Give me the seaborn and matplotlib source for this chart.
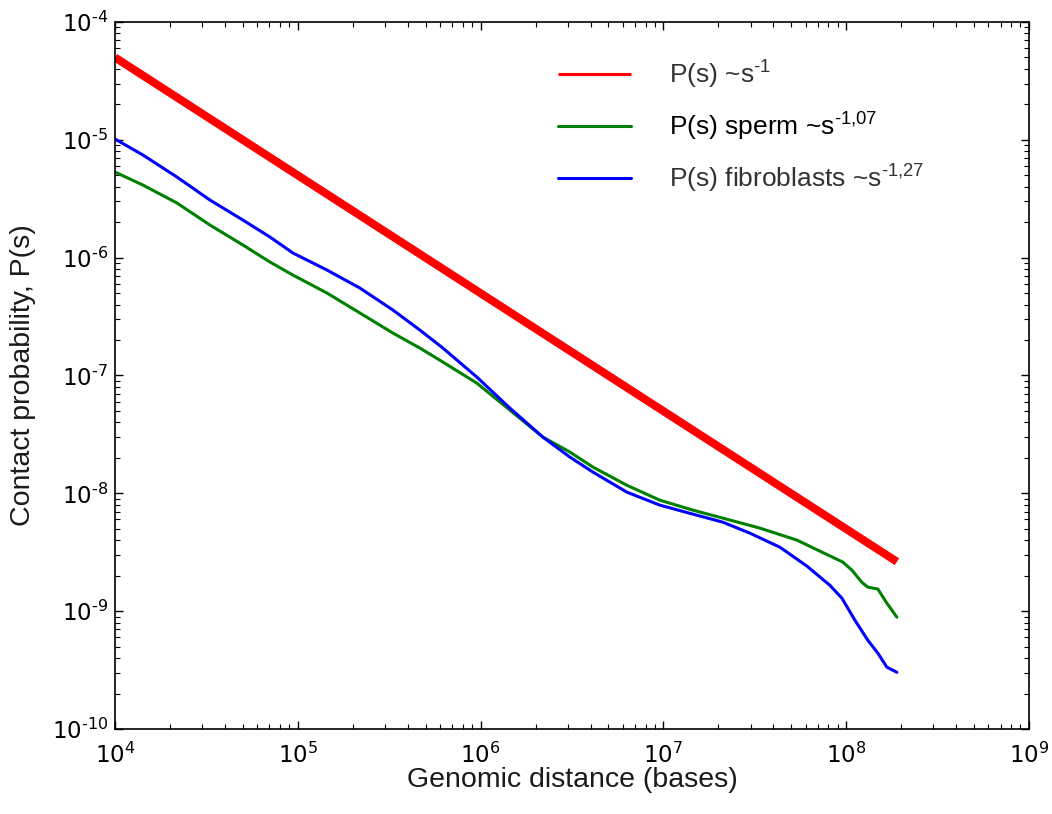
import matplotlib
matplotlib.use("Agg")
import matplotlib.pyplot as plt
import seaborn as sns
from matplotlib.ticker import LogLocator, FuncFormatter, NullFormatter
import math

# ---------------- data ----------------
red_distance = [1.0e4, 1.897e8]
red_prob = [5.0e-5, 2.63e-9]

sperm_distance = [10000, 14220, 21830, 33110, 50120, 70470, 94190, 144500, 218800,
                  331900, 465600, 622300, 955000, 1449000, 2193000, 3083000, 4121000,
                  6324000, 9572000, 14520000, 21180000, 33730000, 53830000, 71940000,
                  95940000, 107600000, 121900000, 131500000, 149300000, 167100000,
                  189700000]
sperm_prob = [5.33e-6, 4.13e-6, 2.91e-6, 1.89e-6, 1.28e-6, 9.18e-7, 7.11e-7, 5.01e-7,
              3.39e-7, 2.29e-7, 1.71e-7, 1.30e-7, 8.61e-8, 5.08e-8, 3.00e-8, 2.24e-8,
              1.67e-8, 1.17e-8, 8.75e-9, 7.20e-9, 6.16e-9, 5.07e-9, 4.01e-9, 3.23e-9,
              2.61e-9, 2.23e-9, 1.76e-9, 1.60e-9, 1.54e-9, 1.17e-9, 8.89e-10]

fibro_distance = [10000, 14220, 21830, 33110, 50120, 70470, 94190, 144500, 218800,
                  331900, 465600, 622300, 955000, 1449000, 2193000, 3083000, 4121000,
                  6324000, 9572000, 14520000, 21180000, 29790000, 43450000, 61090000,
                  81470000, 94840000, 111700000, 131500000, 149300000, 167100000,
                  189700000]
fibro_prob = [1.016e-5, 7.43e-6, 4.83e-6, 3.08e-6, 2.085e-6, 1.496e-6, 1.094e-6, 7.85e-7,
              5.52e-7, 3.59e-7, 2.43e-7, 1.71e-7, 9.69e-8, 5.28e-8, 3.00e-8, 2.03e-8,
              1.514e-8, 1.023e-8, 7.94e-9, 6.66e-9, 5.69e-9, 4.59e-9, 3.49e-9, 2.41e-9,
              1.66e-9, 1.29e-9, 8.39e-10, 5.67e-10, 4.40e-10, 3.35e-10, 3.03e-10]

labels = [r"P(s) ~s$^{\text{-1}}$",
          r"P(s) sperm ~s$^{\text{-1,07}}$",
          r"P(s) fibroblasts ~s$^{\text{-1,27}}$"]
colors = ["#ff0000", "#008000", "#0000ff"]
x_label = "Genomic distance (bases)"
y_label = "Contact probability, P(s)"

# ---------------- style ----------------
sns.set_theme(style="white")
plt.rcParams["font.family"] = ["DejaVu Sans"]
plt.rcParams["mathtext.fontset"] = "custom"
plt.rcParams["mathtext.rm"] = "Liberation Sans"
plt.rcParams["mathtext.it"] = "Liberation Sans:italic"
plt.rcParams["mathtext.bf"] = "Liberation Sans:bold"
plt.rcParams["axes.unicode_minus"] = False

fig = plt.figure(figsize=(10.52, 8.14), dpi=100)
ax = fig.add_axes([0.1093, 0.1044, 0.8687, 0.8686])

sns.lineplot(x=red_distance, y=red_prob, ax=ax, color=colors[0], linewidth=5.8,
             label=labels[0], solid_capstyle="butt")
sns.lineplot(x=sperm_distance, y=sperm_prob, ax=ax, color=colors[1], linewidth=2.2,
             label=labels[1])
sns.lineplot(x=fibro_distance, y=fibro_prob, ax=ax, color=colors[2], linewidth=2.2,
             label=labels[2])

ax.set_xscale("log")
ax.set_yscale("log")
ax.set_xlim(1e4, 1e9)
ax.set_ylim(1e-10, 1e-4)


def pow_fmt(v, pos):
    e = int(round(math.log10(v)))
    return r"10$^{\text{%d}}$" % e


for a in (ax.xaxis, ax.yaxis):
    a.set_major_locator(LogLocator(base=10, numticks=20))
    a.set_minor_locator(LogLocator(base=10, subs=range(2, 10), numticks=20))
    a.set_major_formatter(FuncFormatter(pow_fmt))
    a.set_minor_formatter(NullFormatter())

ax.tick_params(which="both", direction="in", top=True, right=True,
               bottom=True, left=True, colors="black")
ax.tick_params(which="major", length=6, width=1.0, labelsize=16.5)
ax.tick_params(which="minor", length=3.5, width=0.8)
ax.tick_params(axis="x", which="major", pad=10)
ax.tick_params(axis="y", which="major", pad=5)
fig.canvas.draw()
for lab in ax.get_xticklabels() + ax.get_yticklabels():
    lab.set_fontfamily("DejaVu Sans")
    lab.set_math_fontfamily("dejavusans")

for s in ax.spines.values():
    s.set_visible(True)
    s.set_color("black")
    s.set_linewidth(1.2)

ax.set_xlabel(x_label, fontsize=20.5, family="Liberation Sans", labelpad=-1,
              color="#1a1a1a")
ax.set_ylabel(y_label, fontsize=20.5, family="Liberation Sans", labelpad=11,
              color="#1a1a1a")

leg = ax.legend(loc="upper left", frameon=False,
                prop={"family": "Liberation Sans", "size": 19},
                handlelength=2.75, handletextpad=1.45, labelspacing=0.75,
                borderaxespad=0.0, borderpad=0.0, bbox_to_anchor=(0.485, 0.948))
for line in leg.get_lines():
    line.set_linewidth(2.2)
text_colors = ["#333333", "black", "#333333"]
for t, c in zip(leg.get_texts(), text_colors):
    t.set_color(c)

fig.savefig("out.png", dpi=100)
